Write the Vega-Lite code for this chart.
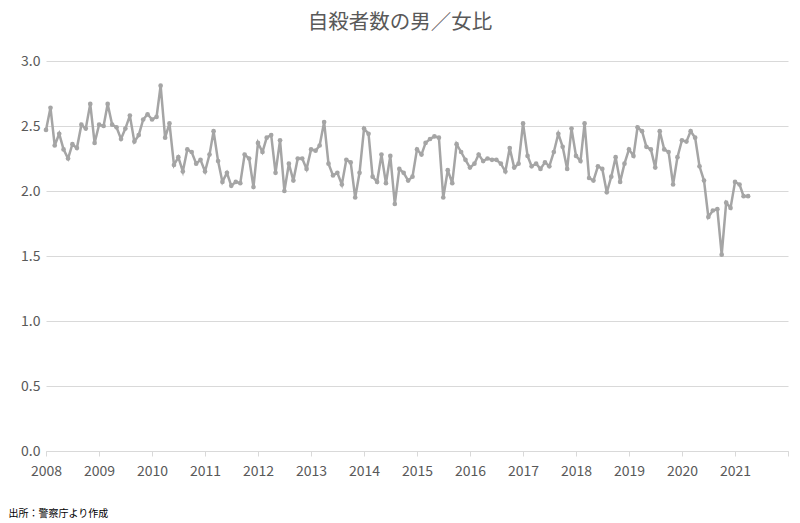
{
  "$schema": "https://vega.github.io/schema/vega-lite/v6.json",
  "autosize": "none",
  "width": 742,
  "height": 390,
  "padding": {"left": 46, "top": 61, "right": 12, "bottom": 72},
  "background": "white",
  "title": {"text": "自殺者数の男／女比", "fontSize": 20.5, "font": "Noto Sans CJK JP", "fontWeight": "normal", "color": "#595959", "anchor": "middle", "dx": -17, "offset": 21},
  "config": {"view": {"stroke": null}, "font": "Noto Sans CJK JP"},
  "data": {"values": [
    {"d":"2008-01-01","v":2.47},{"d":"2008-02-01","v":2.64},{"d":"2008-03-01","v":2.35},{"d":"2008-04-01","v":2.44},{"d":"2008-05-01","v":2.32},{"d":"2008-06-01","v":2.25},{"d":"2008-07-01","v":2.36},{"d":"2008-08-01","v":2.33},{"d":"2008-09-01","v":2.51},{"d":"2008-10-01","v":2.48},{"d":"2008-11-01","v":2.67},{"d":"2008-12-01","v":2.37},
    {"d":"2009-01-01","v":2.51},{"d":"2009-02-01","v":2.50},{"d":"2009-03-01","v":2.67},{"d":"2009-04-01","v":2.51},{"d":"2009-05-01","v":2.49},{"d":"2009-06-01","v":2.40},{"d":"2009-07-01","v":2.48},{"d":"2009-08-01","v":2.58},{"d":"2009-09-01","v":2.38},{"d":"2009-10-01","v":2.43},{"d":"2009-11-01","v":2.55},{"d":"2009-12-01","v":2.59},
    {"d":"2010-01-01","v":2.55},{"d":"2010-02-01","v":2.57},{"d":"2010-03-01","v":2.81},{"d":"2010-04-01","v":2.41},{"d":"2010-05-01","v":2.52},{"d":"2010-06-01","v":2.20},{"d":"2010-07-01","v":2.26},{"d":"2010-08-01","v":2.15},{"d":"2010-09-01","v":2.32},{"d":"2010-10-01","v":2.30},{"d":"2010-11-01","v":2.21},{"d":"2010-12-01","v":2.24},
    {"d":"2011-01-01","v":2.15},{"d":"2011-02-01","v":2.28},{"d":"2011-03-01","v":2.46},{"d":"2011-04-01","v":2.23},{"d":"2011-05-01","v":2.07},{"d":"2011-06-01","v":2.14},{"d":"2011-07-01","v":2.04},{"d":"2011-08-01","v":2.07},{"d":"2011-09-01","v":2.06},{"d":"2011-10-01","v":2.28},{"d":"2011-11-01","v":2.25},{"d":"2011-12-01","v":2.03},
    {"d":"2012-01-01","v":2.37},{"d":"2012-02-01","v":2.30},{"d":"2012-03-01","v":2.41},{"d":"2012-04-01","v":2.43},{"d":"2012-05-01","v":2.14},{"d":"2012-06-01","v":2.39},{"d":"2012-07-01","v":2.00},{"d":"2012-08-01","v":2.21},{"d":"2012-09-01","v":2.08},{"d":"2012-10-01","v":2.25},{"d":"2012-11-01","v":2.25},{"d":"2012-12-01","v":2.17},
    {"d":"2013-01-01","v":2.32},{"d":"2013-02-01","v":2.31},{"d":"2013-03-01","v":2.35},{"d":"2013-04-01","v":2.53},{"d":"2013-05-01","v":2.21},{"d":"2013-06-01","v":2.12},{"d":"2013-07-01","v":2.14},{"d":"2013-08-01","v":2.05},{"d":"2013-09-01","v":2.24},{"d":"2013-10-01","v":2.22},{"d":"2013-11-01","v":1.95},{"d":"2013-12-01","v":2.14},
    {"d":"2014-01-01","v":2.48},{"d":"2014-02-01","v":2.44},{"d":"2014-03-01","v":2.11},{"d":"2014-04-01","v":2.07},{"d":"2014-05-01","v":2.28},{"d":"2014-06-01","v":2.06},{"d":"2014-07-01","v":2.27},{"d":"2014-08-01","v":1.90},{"d":"2014-09-01","v":2.17},{"d":"2014-10-01","v":2.14},{"d":"2014-11-01","v":2.08},{"d":"2014-12-01","v":2.11},
    {"d":"2015-01-01","v":2.32},{"d":"2015-02-01","v":2.28},{"d":"2015-03-01","v":2.37},{"d":"2015-04-01","v":2.40},{"d":"2015-05-01","v":2.42},{"d":"2015-06-01","v":2.41},{"d":"2015-07-01","v":1.95},{"d":"2015-08-01","v":2.16},{"d":"2015-09-01","v":2.06},{"d":"2015-10-01","v":2.36},{"d":"2015-11-01","v":2.30},{"d":"2015-12-01","v":2.24},
    {"d":"2016-01-01","v":2.18},{"d":"2016-02-01","v":2.21},{"d":"2016-03-01","v":2.28},{"d":"2016-04-01","v":2.23},{"d":"2016-05-01","v":2.25},{"d":"2016-06-01","v":2.24},{"d":"2016-07-01","v":2.24},{"d":"2016-08-01","v":2.21},{"d":"2016-09-01","v":2.15},{"d":"2016-10-01","v":2.33},{"d":"2016-11-01","v":2.18},{"d":"2016-12-01","v":2.21},
    {"d":"2017-01-01","v":2.52},{"d":"2017-02-01","v":2.27},{"d":"2017-03-01","v":2.19},{"d":"2017-04-01","v":2.21},{"d":"2017-05-01","v":2.17},{"d":"2017-06-01","v":2.22},{"d":"2017-07-01","v":2.19},{"d":"2017-08-01","v":2.30},{"d":"2017-09-01","v":2.44},{"d":"2017-10-01","v":2.34},{"d":"2017-11-01","v":2.17},{"d":"2017-12-01","v":2.48},
    {"d":"2018-01-01","v":2.27},{"d":"2018-02-01","v":2.23},{"d":"2018-03-01","v":2.52},{"d":"2018-04-01","v":2.10},{"d":"2018-05-01","v":2.08},{"d":"2018-06-01","v":2.19},{"d":"2018-07-01","v":2.17},{"d":"2018-08-01","v":1.99},{"d":"2018-09-01","v":2.11},{"d":"2018-10-01","v":2.26},{"d":"2018-11-01","v":2.07},{"d":"2018-12-01","v":2.21},
    {"d":"2019-01-01","v":2.32},{"d":"2019-02-01","v":2.27},{"d":"2019-03-01","v":2.49},{"d":"2019-04-01","v":2.46},{"d":"2019-05-01","v":2.34},{"d":"2019-06-01","v":2.32},{"d":"2019-07-01","v":2.18},{"d":"2019-08-01","v":2.46},{"d":"2019-09-01","v":2.32},{"d":"2019-10-01","v":2.30},{"d":"2019-11-01","v":2.05},{"d":"2019-12-01","v":2.26},
    {"d":"2020-01-01","v":2.39},{"d":"2020-02-01","v":2.38},{"d":"2020-03-01","v":2.46},{"d":"2020-04-01","v":2.41},{"d":"2020-05-01","v":2.19},{"d":"2020-06-01","v":2.08},{"d":"2020-07-01","v":1.80},{"d":"2020-08-01","v":1.85},{"d":"2020-09-01","v":1.86},{"d":"2020-10-01","v":1.51},{"d":"2020-11-01","v":1.91},{"d":"2020-12-01","v":1.87},
    {"d":"2021-01-01","v":2.07},{"d":"2021-02-01","v":2.05},{"d":"2021-03-01","v":1.96},{"d":"2021-04-01","v":1.96}
  ]},
  "mark": {"type": "line", "color": "#a5a5a5", "strokeWidth": 2.5, "point": {"filled": true, "size": 22, "color": "#a5a5a5"}},
  "encoding": {
    "x": {
      "field": "d", "type": "temporal",
      "scale": {"type": "utc", "domain": [{"year": 2008, "month": 1, "date": 1, "utc": true}, {"year": 2022, "month": 1, "date": 1, "utc": true}], "nice": false},
      "axis": {
        "tickCount": {"interval": "year", "step": 1},
        "labelExpr": "utcyear(datum.value) > 2021 ? '' : utcFormat(datum.value, '%Y')",
        "grid": false,
        "domainColor": "#d9d9d9",
        "tickColor": "#d9d9d9",
        "tickSize": 5,
        "labelFontSize": 14,
        "labelColor": "#595959",
        "labelPadding": 8,
        "labelFlush": false,
        "labelOverlap": false,
        "title": "出所：警察庁より作成",
        "titleFontSize": 10,
        "titleFontWeight": "normal",
        "titleColor": "#000000",
        "titleAnchor": "start",
        "titleAlign": "left",
        "titleX": -38,
        "titleY": 57
      }
    },
    "y": {
      "field": "v", "type": "quantitative",
      "scale": {"domain": [0, 3], "nice": false, "zero": true},
      "axis": {
        "values": [0, 0.5, 1, 1.5, 2, 2.5, 3],
        "format": ".1f",
        "domain": false,
        "ticks": false,
        "gridColor": "#d9d9d9",
        "labelFontSize": 14,
        "labelColor": "#595959",
        "labelPadding": 6,
        "title": null
      }
    }
  }
}
